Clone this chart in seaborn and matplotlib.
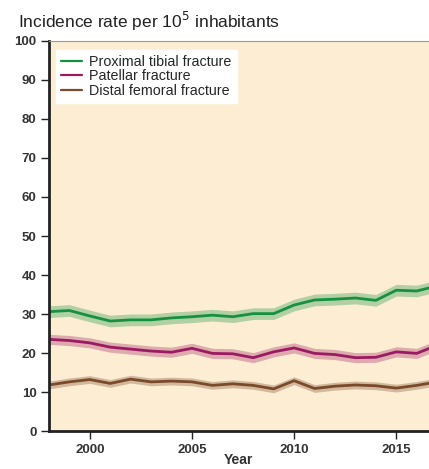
import numpy as np
import pandas as pd
import matplotlib
matplotlib.use('Agg')
import matplotlib.pyplot as plt
import seaborn as sns

years = list(range(1998, 2018))

tibial = [30.6, 30.9, 29.5, 28.2, 28.5, 28.5, 29.0, 29.3, 29.7, 29.3,
          30.1, 30.1, 32.3, 33.6, 33.8, 34.1, 33.5, 36.1, 35.9, 37.2]
patellar = [23.5, 23.2, 22.6, 21.5, 21.0, 20.5, 20.2, 21.2, 19.9, 19.8,
            18.8, 20.3, 21.3, 19.9, 19.6, 18.8, 18.9, 20.3, 19.9, 22.0]
femoral = [11.8, 12.6, 13.2, 12.2, 13.3, 12.6, 12.8, 12.6, 11.7, 12.1,
           11.7, 10.8, 12.9, 10.9, 11.5, 11.8, 11.6, 11.0, 11.7, 12.6]

# half width of the shaded band for each series
band = {'Proximal tibial fracture': 1.5,
        'Patellar fracture': 1.3,
        'Distal femoral fracture': 1.0}

series = {'Proximal tibial fracture': tibial,
          'Patellar fracture': patellar,
          'Distal femoral fracture': femoral}

colors = {'Proximal tibial fracture': '#16913f',
          'Patellar fracture': '#9b1b62',
          'Distal femoral fracture': '#7a4a2b'}

rows = []
for name, vals in series.items():
    w = band[name]
    for yr, v in zip(years, vals):
        for d in (-w, 0.0, w):
            rows.append({'Year': yr, 'rate': v + d, 'fracture': name})
df = pd.DataFrame(rows)

sns.set_style('ticks')
plt.rcParams['font.family'] = ['Liberation Sans', 'DejaVu Sans']

fig = plt.figure(figsize=(4.29, 4.69), dpi=100)
ax = fig.add_axes([0.114, 0.081, 0.886, 0.8316])
ax.set_facecolor('#fdeed3')

sns.lineplot(data=df, x='Year', y='rate', hue='fracture', palette=colors,
             estimator='mean', errorbar=('pi', 100),
             err_kws={'alpha': 0.32, 'linewidth': 0},
             linewidth=2, ax=ax)

ax.set_xlim(1998, 2016.6)
ax.set_ylim(0, 100)
ax.set_xticks([2000, 2005, 2010, 2015])
ax.set_yticks(range(0, 101, 10))
ax.tick_params(axis='both', labelsize=9.5, color='#222222', length=6, width=1, pad=3)
for lab in ax.get_xticklabels() + ax.get_yticklabels():
    lab.set_fontweight('bold')
    lab.set_color('#333333')

for s in ['left', 'bottom']:
    ax.spines[s].set_linewidth(2)
    ax.spines[s].set_color('#222222')
ax.spines['top'].set_color('#999999')
ax.spines['top'].set_linewidth(0.8)
ax.spines['right'].set_visible(False)

ax.set_xlabel('Year', fontsize=10, fontweight='bold', color='#333333', labelpad=-2)
ax.set_ylabel('')

fig.text(0.042, 0.955, 'Incidence rate per 10$^5$ inhabitants', fontsize=12.5,
         color='#222222', va='center', ha='left')

leg = ax.legend(loc='upper left', bbox_to_anchor=(0.018, 0.978), frameon=True,
                fancybox=False, fontsize=10.3, handlelength=1.5, borderpad=0.35,
                labelspacing=0.05, handletextpad=0.5, borderaxespad=0)
leg.get_frame().set_facecolor('white')
leg.get_frame().set_edgecolor('white')
leg.get_frame().set_alpha(1)
for line in leg.get_lines():
    line.set_linewidth(1.6)

fig.savefig('out.png', dpi=100)
